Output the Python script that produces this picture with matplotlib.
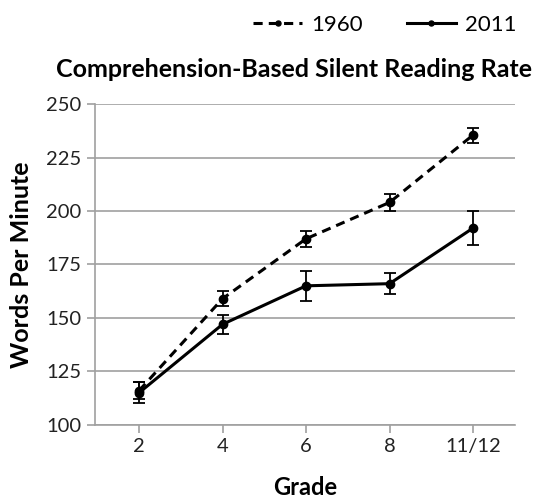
import numpy as np
from matplotlib import pyplot as plt

# Data
grades = ["2", "4", "6", "8", "11/12"]
wpm_1960 = [116, 159, 187, 204, 235.5]
err_1960 = [4, 3.5, 3.7, 3.8, 3.5]
wpm_2011 = [115, 147, 165, 166, 192]
err_2011 = [5, 4.5, 7, 5, 8]

plt.rcParams["font.family"] = ["Lato", "DejaVu Sans"]

fig = plt.figure(figsize=(5.39, 4.98), dpi=100)
ax = fig.add_axes([0.176, 0.147, 0.779, 0.644])

x = np.arange(len(grades))
h1 = ax.errorbar(x, wpm_1960, yerr=err_1960, color="black", linestyle=(0, (3, 2)),
                 linewidth=2.2, marker="o", markersize=6, capsize=4, elinewidth=1.3,
                 capthick=1.3, label="1960", zorder=3)
h2 = ax.errorbar(x, wpm_2011, yerr=err_2011, color="black", linestyle="-",
                 linewidth=2.2, marker="o", markersize=6, capsize=4, elinewidth=1.3,
                 capthick=1.3, label="2011", zorder=3)

ax.set_xlim(-0.53, 4.5)
ax.set_ylim(100, 250)
ax.set_yticks(np.arange(100, 251, 25))
ax.set_xticks(x)
ax.set_xticklabels(grades)
ax.grid(axis="y", color="#a0a0a0", linewidth=1.2)
ax.set_axisbelow(True)
for s in ["top", "right"]:
    ax.spines[s].set_visible(False)
for s in ["left", "bottom"]:
    ax.spines[s].set_color("#a0a0a0")
    ax.spines[s].set_linewidth(1.2)
ax.tick_params(colors="#a0a0a0", labelcolor="#222222", labelsize=14.5, length=6, width=1.2)

ax.set_xlabel("Grade", fontsize=17, fontweight="bold", labelpad=15)
ax.set_ylabel("Words Per Minute", fontsize=18, fontweight="bold", labelpad=10)
fig.text(0.545, 0.845, "Comprehension-Based Silent Reading Rate", ha="center",
         fontsize=18, fontweight="bold")

handles = [h1[0], h2[0]]
fig.legend(handles, ["1960", "2011"], loc="upper right", bbox_to_anchor=(0.995, 1.01),
           ncol=2, frameon=False, fontsize=16, handlelength=2.2, markerscale=0.6,
           columnspacing=2.0, handletextpad=0.4)

plt.savefig("out.png", dpi=100)
